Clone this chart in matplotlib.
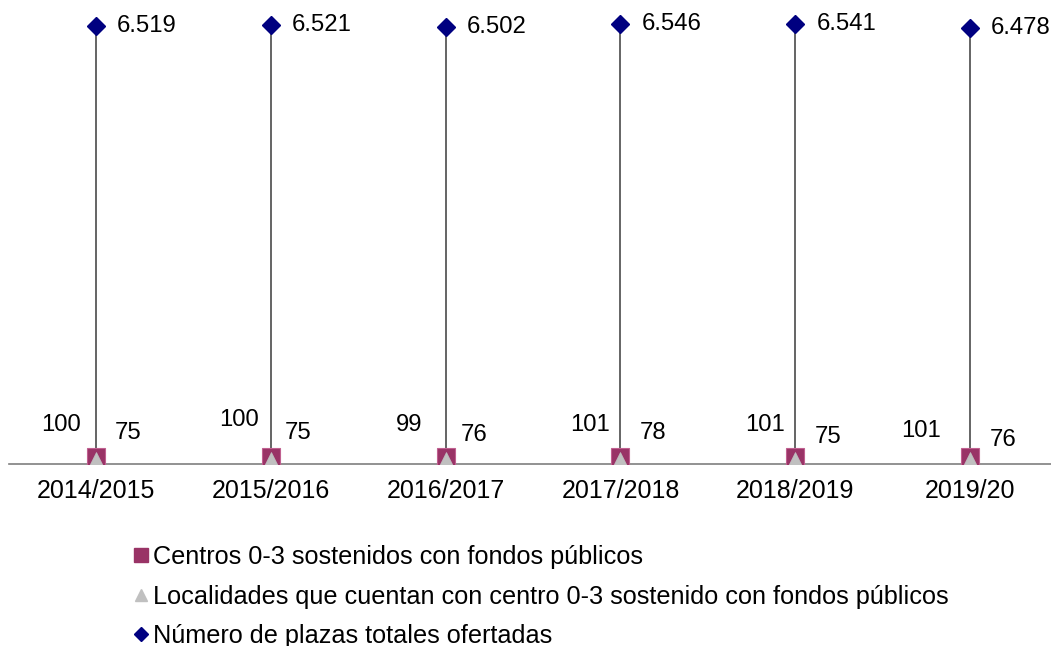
import matplotlib
matplotlib.use("Agg")
import matplotlib.pyplot as plt
from matplotlib.lines import Line2D

plt.rcParams['font.family'] = ['Liberation Sans', 'DejaVu Sans']

categories = ["2014/2015", "2015/2016", "2016/2017", "2017/2018", "2018/2019", "2019/20"]
centros = [100, 100, 99, 101, 101, 101]
localidades = [75, 75, 76, 78, 75, 76]
plazas = [6519, 6521, 6502, 6546, 6541, 6478]
plazas_labels = ["6.519", "6.521", "6.502", "6.546", "6.541", "6.478"]

legend_labels = ["Centros 0-3 sostenidos con fondos públicos",
                 "Localidades que cuentan con centro 0-3 sostenido con fondos públicos",
                 "Número de plazas totales ofertadas"]

# label offsets in pixels (positions only)
sq_dx = [-35, -32, -37, -30, -30, -49]
sq_dy = [32, 37, 32, 32, 32, 26]
tr_dx = [32, 27, 28, 33, 33, 33]
tr_dy = [26, 26, 24, 26, 22, 19]

W, H = 1051, 646
fig = plt.figure(figsize=(W / 100, H / 100), dpi=100)
ax = fig.add_axes([9 / W, 1 - 464 / H, (W - 9) / W, 464 / H])

x = list(range(len(categories)))
sq_color = "#993366"
tri_color = "#C0C0C0"
dia_color = "#000080"

# drop lines
ax.vlines(x, 0, plazas, colors="#3a3a3a", lw=1.1, zorder=1)

ax.plot(x, centros, linestyle="none", marker="s", ms=13, mfc=sq_color,
        mec="#c06090", mew=0.8, zorder=3)
ax.plot(x, localidades, linestyle="none", marker="^", ms=10, mfc=tri_color,
        mec=tri_color, mew=0.5, zorder=4)
ax.plot(x, plazas, linestyle="none", marker="D", ms=9, mfc=dia_color,
        mec=dia_color, zorder=3)

px = 72 / 100  # pixel to points
fs = 17.2
for i in x:
    ax.annotate(str(centros[i]), (i, centros[i]), xytext=(sq_dx[i] * px, sq_dy[i] * px),
                textcoords="offset points", ha="center", va="center", fontsize=fs)
    ax.annotate(str(localidades[i]), (i, localidades[i]), xytext=(tr_dx[i] * px, tr_dy[i] * px),
                textcoords="offset points", ha="center", va="center", fontsize=fs)
    ax.annotate(plazas_labels[i], (i, plazas[i]), xytext=(21 * px, 0),
                textcoords="offset points", ha="left", va="center", fontsize=fs)

ax.set_xlim(-0.498, 5.463)
ax.set_ylim(0, 6900)
ax.set_xticks(x)
ax.set_xticklabels(categories, fontsize=18)
ax.tick_params(axis="x", length=0, pad=11)
ax.set_yticks([])
for s in ["top", "left", "right"]:
    ax.spines[s].set_visible(False)
ax.spines["bottom"].set_color("#7f7f7f")
ax.spines["bottom"].set_linewidth(1.2)
ax.patch.set_alpha(0)

handles = [
    Line2D([], [], linestyle="none", marker="s", ms=10, mfc=sq_color, mec=sq_color),
    Line2D([], [], linestyle="none", marker="^", ms=8, mfc=tri_color, mec=tri_color),
    Line2D([], [], linestyle="none", marker="D", ms=7.5, mfc=dia_color, mec=dia_color),
]
fig.legend(handles, legend_labels, loc="upper left", bbox_to_anchor=(133 / W, 1 - 545 / H),
           frameon=False, fontsize=18.2, handlelength=0.6, handletextpad=0.2,
           labelspacing=0.62, borderpad=0, borderaxespad=0)

fig.savefig("out.png", dpi=100)
